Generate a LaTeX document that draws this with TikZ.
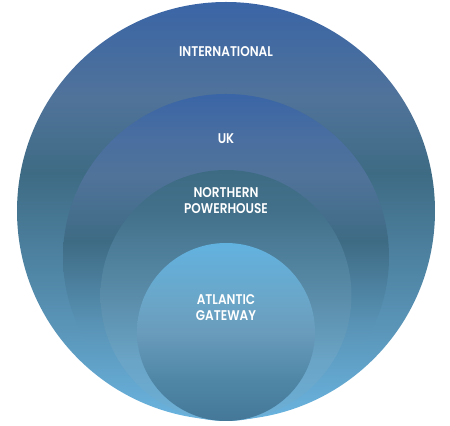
\documentclass[tikz,border=0pt]{standalone}
\usepackage{fontspec}
\newfontfamily\ringfont{Poppins}[UprightFont=* SemiBold, FakeStretch=0.86]
\usepackage{tikz}

\definecolor{royal}{HTML}{3A65A6}
\definecolor{slateblue}{HTML}{4A6FA0}
\definecolor{greyblue}{HTML}{50739A}
\definecolor{deepteal}{HTML}{3E6B84}
\definecolor{midsea}{HTML}{5A95B8}
\definecolor{lightsea}{HTML}{6AB4E0}
\definecolor{npteal}{HTML}{42708A}
\definecolor{npmid}{HTML}{5B8EAB}
\definecolor{nplow}{HTML}{6AA4C6}
\definecolor{npbase}{HTML}{6CB0D8}
\definecolor{agtop}{HTML}{62B2E0}
\definecolor{aghigh}{HTML}{6AA6C8}
\definecolor{agmid}{HTML}{6A9CBC}
\definecolor{aglow}{HTML}{4F86A6}
\definecolor{agbase}{HTML}{457898}

% one shading per ring, box of the circle = 25bp..75bp
\pgfdeclareverticalshading{intlshade}{100bp}{color(0bp)=(lightsea); color(25bp)=(lightsea);
  color(36bp)=(midsea); color(54.5bp)=(deepteal); color(63.5bp)=(greyblue);
  color(75bp)=(royal); color(100bp)=(royal)}
\pgfdeclareverticalshading{ukshade}{100bp}{color(0bp)=(lightsea); color(25bp)=(lightsea);
  color(39bp)=(midsea); color(52.5bp)=(deepteal); color(62.5bp)=(greyblue);
  color(68bp)=(slateblue); color(75bp)=(royal); color(100bp)=(royal)}
\pgfdeclareverticalshading{npshade}{100bp}{color(0bp)=(npbase); color(25bp)=(npbase);
  color(37bp)=(nplow); color(49bp)=(npmid); color(67bp)=(npteal);
  color(75bp)=(deepteal); color(100bp)=(deepteal)}
\pgfdeclareverticalshading{agshade}{100bp}{color(0bp)=(agbase); color(25bp)=(agbase);
  color(36.5bp)=(aglow); color(50bp)=(agmid); color(59bp)=(aghigh);
  color(75bp)=(agtop); color(100bp)=(agtop)}

\begin{document}
\begin{tikzpicture}[ringlabel/.style={text=white, align=center, inner sep=0pt,
    font=\ringfont\fontsize{8}{9.1}\selectfont}]
  \useasboundingbox (0,0) rectangle (9,8.52);
  \shade[shading=intlshade] (4.52,4.30) circle (4.18);
  \shade[shading=ukshade] (4.52,3.38) circle (3.26);
  \shade[shading=npshade] (4.52,2.61) circle (2.51);
  \shade[shading=agshade] (4.52,1.88) circle (1.78);
  \node[ringlabel] (intl) at (4.52,7.48) {INTERNATIONAL};
  \node[ringlabel] (uk) at (4.52,5.74) {UK};
  \node[ringlabel] (north) at (4.52,4.50) {NORTHERN\\POWERHOUSE};
  \node[ringlabel] (gateway) at (4.52,2.36) {ATLANTIC\\GATEWAY};
\end{tikzpicture}
\end{document}
